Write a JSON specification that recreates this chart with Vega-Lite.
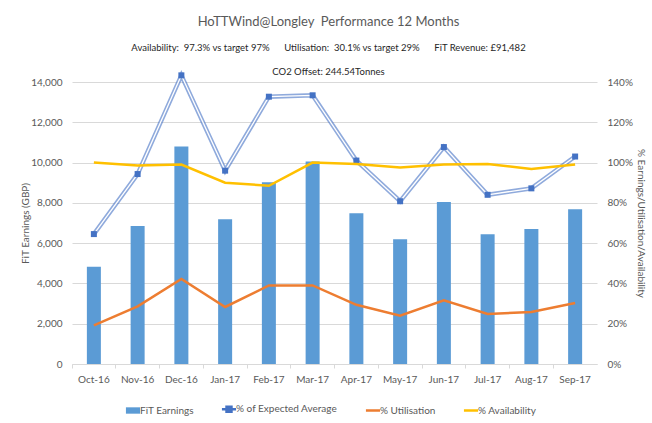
{
  "$schema": "https://vega.github.io/schema/vega-lite/v6.json",
  "width": 525,
  "height": 282,
  "autosize": {"type": "none"},
  "padding": {"left": 72, "top": 82, "right": 55, "bottom": 59},
  "background": "white",
  "config": {
    "font": "Lato",
    "view": {"stroke": null},
    "axis": {
      "labelColor": "#595959",
      "titleColor": "#595959",
      "labelFontSize": 10,
      "titleFontSize": 10,
      "titleFontWeight": "normal",
      "domainColor": "#d9d9d9",
      "tickColor": "#d9d9d9",
      "gridColor": "#d9d9d9"
    }
  },
  "title": {
    "text": "HoTTWind@Longley\u00a0 Performance 12 Months",
    "subtitle": ["Availability:\u00a0 97.3% vs target 97%\u00a0\u00a0\u00a0\u00a0\u00a0 Utilisation:\u00a0 30.1% vs target 29%\u00a0\u00a0\u00a0\u00a0\u00a0 FiT Revenue: £91,482", "CO2 Offset: 244.54Tonnes"],
    "fontSize": 13,
    "fontWeight": "normal",
    "color": "#595959",
    "subtitleColor": "#262626",
    "subtitleFontSize": 9.5,
    "subtitleLineHeight": 24,
    "subtitlePadding": 14,
    "offset": -10,
    "anchor": "middle",
    "dx": -6
  },
  "data": {
    "values": [
      {"month": "Oct-16", "earnings": 4830, "expected": 0.645, "utilisation": 0.192, "availability": 1.0},
      {"month": "Nov-16", "earnings": 6850, "expected": 0.943, "utilisation": 0.286, "availability": 0.985},
      {"month": "Dec-16", "earnings": 10800, "expected": 1.433, "utilisation": 0.422, "availability": 0.99},
      {"month": "Jan-17", "earnings": 7190, "expected": 0.96, "utilisation": 0.283, "availability": 0.9},
      {"month": "Feb-17", "earnings": 9020, "expected": 1.327, "utilisation": 0.39, "availability": 0.885},
      {"month": "Mar-17", "earnings": 10050, "expected": 1.334, "utilisation": 0.39, "availability": 1.0},
      {"month": "Apr-17", "earnings": 7480, "expected": 1.01, "utilisation": 0.294, "availability": 0.993},
      {"month": "May-17", "earnings": 6190, "expected": 0.808, "utilisation": 0.24, "availability": 0.976},
      {"month": "Jun-17", "earnings": 8040, "expected": 1.077, "utilisation": 0.316, "availability": 0.991},
      {"month": "Jul-17", "earnings": 6440, "expected": 0.84, "utilisation": 0.248, "availability": 0.993},
      {"month": "Aug-17", "earnings": 6700, "expected": 0.872, "utilisation": 0.258, "availability": 0.968},
      {"month": "Sep-17", "earnings": 7680, "expected": 1.03, "utilisation": 0.303, "availability": 0.991}
    ]
  },
  "encoding": {
    "x": {
      "field": "month",
      "type": "ordinal",
      "sort": null,
      "scale": {"paddingInner": 0, "paddingOuter": 0},
      "axis": {
        "title": null,
        "labelAngle": 0,
        "bandPosition": 0,
        "labelOffset": 0,
        "tickSize": 4,
        "labelPadding": 6,
        "grid": false
      }
    }
  },
  "layer": [
    {
      "mark": {"type": "bar", "width": {"band": 0.32}},
      "encoding": {
        "y": {
          "field": "earnings",
          "type": "quantitative",
          "scale": {"domain": [0, 14000]},
          "axis": {
            "title": "FiT Earnings (GBP)",
            "values": [0, 2000, 4000, 6000, 8000, 10000, 12000, 14000],
            "format": ",d",
            "domain": false,
            "ticks": false,
            "grid": true,
            "labelPadding": 10,
            "titlePadding": 0
          }
        },
        "color": {
          "datum": "FiT Earnings",
          "scale": {
            "domain": ["FiT Earnings", "% of Expected Average", "% Utilisation", "% Availability"],
            "range": ["#5B9BD5", "#4472C4", "#ED7D31", "#FFC000"]
          },
          "legend": {
            "orient": "none",
            "legendX": 56,
            "legendY": 322,
            "direction": "horizontal",
            "title": null,
            "labelFontSize": 10,
            "labelColor": "#595959",
            "symbolSize": 200,
            "columnPadding": 22,
            "labelOffset": 2,
            "encode": {
              "symbols": {
                "update": {
                  "shape": {"signal": "datum.label === 'FiT Earnings' ? 'M-1,-0.45H1V0.45H-1Z' : datum.label === '% of Expected Average' ? 'M-1,0H1M-0.35,-0.35H0.35V0.35H-0.35Z' : 'M-1,0H1'"},
                  "fill": {"scale": "color", "field": "value"},
                  "stroke": {"scale": "color", "field": "value"},
                  "strokeWidth": {"signal": "datum.label === 'FiT Earnings' ? 0 : 2.5"},
                  "opacity": {"value": 1}
                }
              }
            }
          }
        }
      }
    },
    {
      "encoding": {
        "y": {
          "type": "quantitative",
          "scale": {"domain": [0, 1.4]},
          "axis": {
            "title": "% Earnings/Utilisation/Availability",
            "orient": "right",
            "values": [0, 0.2, 0.4, 0.6, 0.8, 1.0, 1.2, 1.4],
            "format": ".0%",
            "domain": false,
            "ticks": false,
            "grid": false,
            "labelPadding": 10,
            "titlePadding": 3
          }
        }
      },
      "layer": [
        {
          "mark": {"type": "line", "strokeWidth": 4.5, "opacity": 0.6},
          "encoding": {
            "y": {"field": "expected"},
            "color": {"datum": "% of Expected Average"}
          }
        },
        {
          "mark": {"type": "line", "strokeWidth": 1.3, "color": "white"},
          "encoding": {
            "y": {"field": "expected"}
          }
        },
        {
          "mark": {"type": "point", "shape": "square", "filled": true, "size": 36, "color": "#4472C4", "opacity": 1},
          "encoding": {
            "y": {"field": "expected"}
          }
        },
        {
          "mark": {"type": "line", "strokeWidth": 2.5},
          "encoding": {
            "y": {"field": "utilisation"},
            "color": {"datum": "% Utilisation"}
          }
        },
        {
          "mark": {"type": "line", "strokeWidth": 2.5},
          "encoding": {
            "y": {"field": "availability"},
            "color": {"datum": "% Availability"}
          }
        }
      ]
    }
  ],
  "resolve": {"scale": {"y": "independent"}}
}
